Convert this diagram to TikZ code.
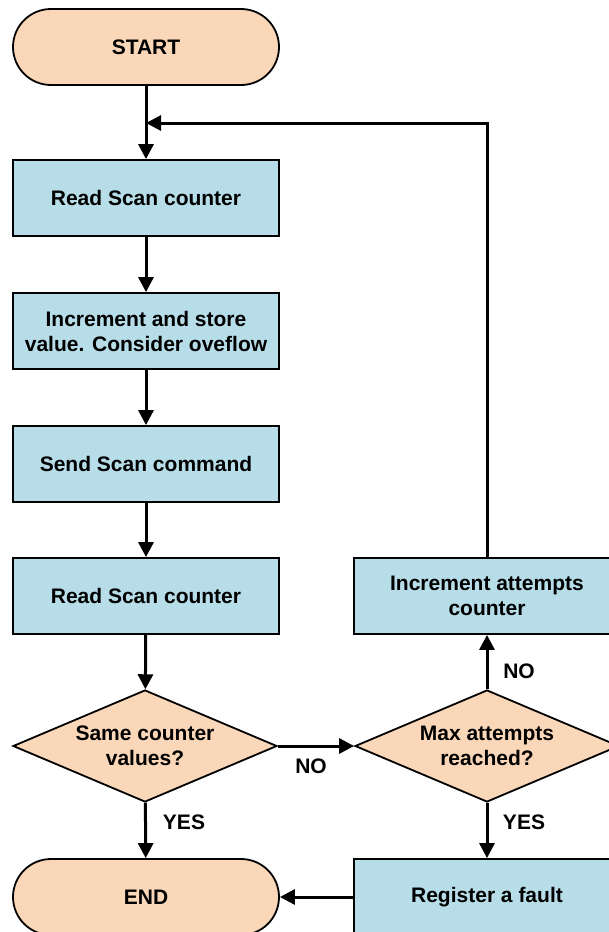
\documentclass[tikz,border=0pt]{standalone}
\usepackage{fontspec}
\setmainfont{Liberation Sans}
\usetikzlibrary{shapes.geometric,arrows.meta}
\definecolor{peach}{HTML}{FAD7B8}
\definecolor{lblue}{HTML}{B7DDE8}
\begin{document}
\begin{tikzpicture}[x=1pt,y=-1pt,
  every node/.style={font=\fontsize{21}{25}\selectfont\bfseries},
  term/.style={draw=black,line width=1.8pt,fill=peach,rounded corners=38pt,minimum width=266pt,minimum height=76pt,inner sep=0pt},
  proc/.style={draw=black,line width=1.8pt,fill=lblue,minimum width=266pt,minimum height=76pt,inner sep=0pt,align=center},
  dec/.style={draw=black,line width=1.8pt,fill=peach,diamond,aspect=2.36,minimum width=264pt,minimum height=112pt,inner sep=0pt,align=center},
  arr/.style={line width=3pt,-{Triangle[length=15pt,width=15pt]}},
  lbl/.style={inner sep=0pt}]
\clip (0,0) rectangle (609,932);
\fill[white] (0,0) rectangle (609,932);
\node[term] (start) at (146,47) {START};
\node[proc] (read1) at (146,198) {Read Scan counter};
\node[proc] (inc) at (146,331) {Increment and store\\value. Consider oveflow};
\node[proc] (send) at (146,464) {Send Scan command};
\node[proc] (read2) at (146,596) {Read Scan counter};
\node[dec] (same) at (145,746) {Same counter\\values?};
\node[term] (end) at (146,897) {END};
\node[proc] (att) at (487,596) {Increment attempts\\counter};
\node[dec] (max) at (487,746) {Max attempts\\reached?};
\node[proc] (fault) at (487,897) {Register a fault};
\coordinate (join) at (146,123);
\draw[line width=3pt] (start.south) -- (join);
\draw[arr] (join) -- (read1.north);
\draw[arr] (read1) -- (inc);
\draw[arr] (inc) -- (send);
\draw[arr] (send) -- (read2);
\draw[arr] (read2) -- (same);
\draw[arr] (same) -- (end);
\draw[arr] (same.east) -- (max.west);
\draw[arr] (max) -- (att);
\draw[arr] (max) -- (fault);
\draw[arr] (fault.west) -- (end.east);
\draw[arr] (att.north) |- (join);
\node[lbl] at (311,766) {NO};
\node[lbl] at (184,822) {YES};
\node[lbl] at (524,822) {YES};
\node[lbl] at (519,671) {NO};
\end{tikzpicture}
\end{document}
